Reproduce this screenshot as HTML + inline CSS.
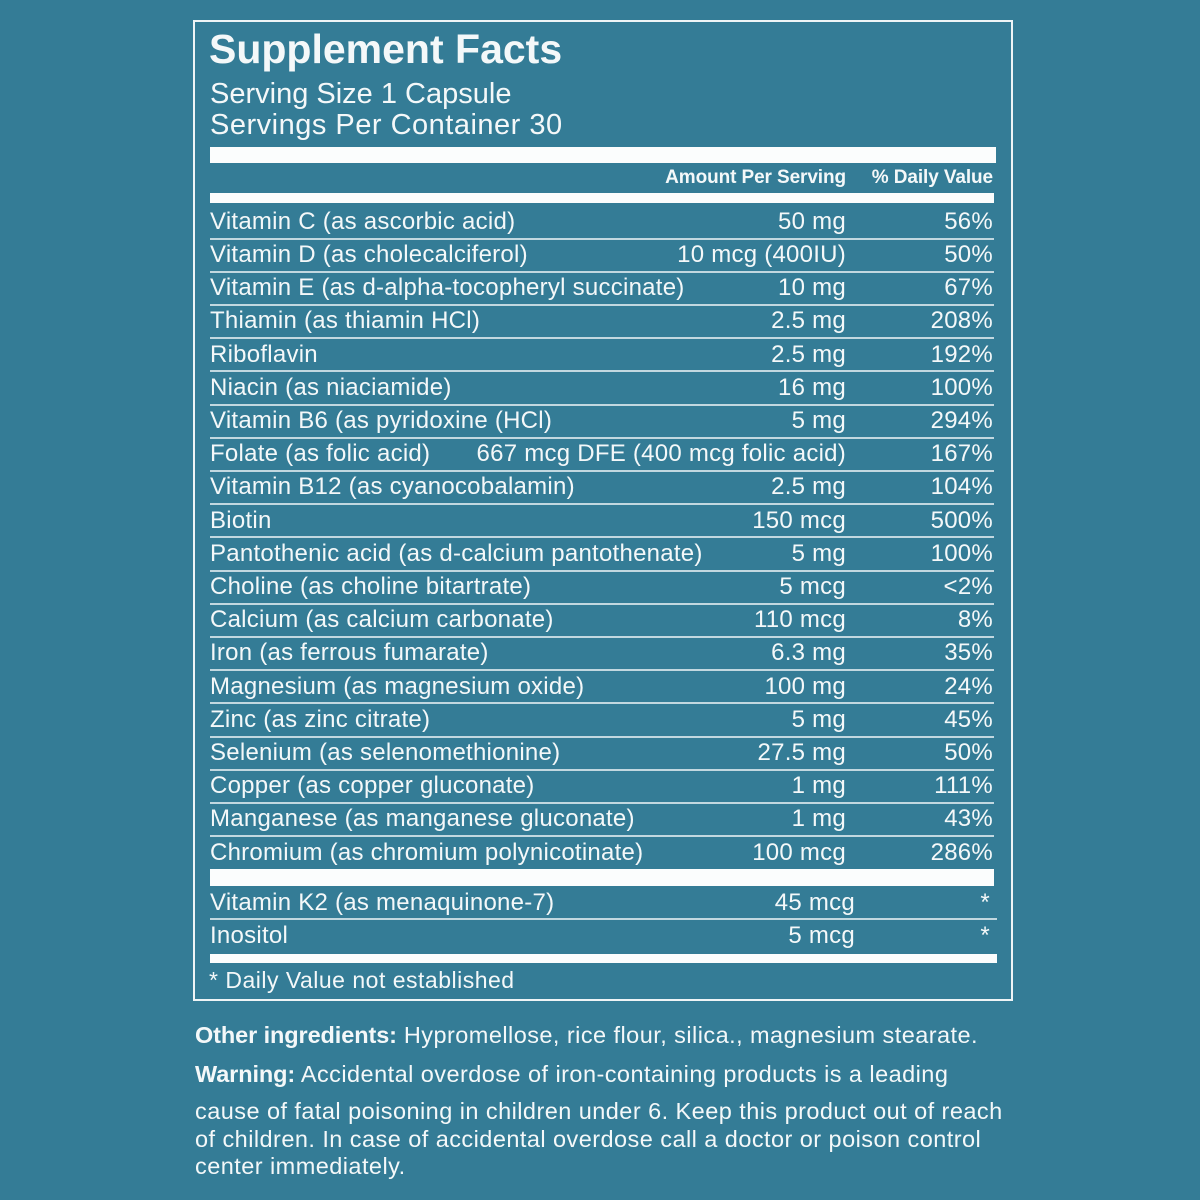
<!DOCTYPE html>
<html><head><meta charset="utf-8">
<style>
html,body{margin:0;padding:0;}
body{width:1200px;height:1200px;background:#347c96;position:relative;overflow:hidden;font-family:"Liberation Sans",Arial,sans-serif;color:#f4f8f9;}
.a{position:absolute;white-space:nowrap;}
.box{position:absolute;left:193px;top:20px;width:816px;height:977px;border:2px solid #eef4f6;}
.bar{position:absolute;background:#fbfdfd;}
.sep{position:absolute;left:210px;width:784px;height:2px;background:#c2d8e0;}
.r{position:absolute;left:0;width:1200px;height:24px;line-height:24px;font-size:24px;letter-spacing:0.25px;}
.r .n{position:absolute;left:210px;}
.r .m{position:absolute;right:354px;}
.r .p{position:absolute;right:207px;}
.f{font-size:23.5px;line-height:23.5px;letter-spacing:0.45px;}
.f b{letter-spacing:-0.1px;}
</style></head><body>
<div class="box"></div>
<div class="a" style="left:209px;top:29.3px;font-size:41px;line-height:41px;font-weight:bold;">Supplement Facts</div>
<div class="a" style="left:210px;top:79.5px;font-size:29px;line-height:29px;">Serving Size 1 Capsule</div>
<div class="a" style="left:210px;top:110.5px;font-size:29px;line-height:29px;letter-spacing:0.5px;">Servings Per Container 30</div>
<div class="bar" style="left:210px;top:147px;width:786px;height:16px;"></div>
<div class="a" style="right:354px;top:168px;font-size:19px;line-height:19px;font-weight:bold;letter-spacing:-0.1px;">Amount Per Serving</div>
<div class="a" style="right:207px;top:168px;font-size:19px;line-height:19px;font-weight:bold;letter-spacing:-0.1px;">% Daily Value</div>
<div class="bar" style="left:210px;top:193px;width:784px;height:10px;"></div>

<div class="r" style="top:209.7px"><span class="n">Vitamin C (as ascorbic acid)</span><span class="m">50 mg</span><span class="p">56%</span></div>
<div class="sep" style="top:237.5px"></div>
<div class="r" style="top:242.9px"><span class="n">Vitamin D (as cholecalciferol)</span><span class="m">10 mcg (400IU)</span><span class="p">50%</span></div>
<div class="sep" style="top:270.7px"></div>
<div class="r" style="top:276.1px"><span class="n">Vitamin E (as d-alpha-tocopheryl succinate)</span><span class="m">10 mg</span><span class="p">67%</span></div>
<div class="sep" style="top:303.9px"></div>
<div class="r" style="top:309.3px"><span class="n">Thiamin (as thiamin HCl)</span><span class="m">2.5 mg</span><span class="p">208%</span></div>
<div class="sep" style="top:337.1px"></div>
<div class="r" style="top:342.5px"><span class="n">Riboflavin</span><span class="m">2.5 mg</span><span class="p">192%</span></div>
<div class="sep" style="top:370.3px"></div>
<div class="r" style="top:375.7px"><span class="n">Niacin (as niaciamide)</span><span class="m">16 mg</span><span class="p">100%</span></div>
<div class="sep" style="top:403.5px"></div>
<div class="r" style="top:408.9px"><span class="n">Vitamin B6 (as pyridoxine (HCl)</span><span class="m">5 mg</span><span class="p">294%</span></div>
<div class="sep" style="top:436.7px"></div>
<div class="r" style="top:442.1px"><span class="n">Folate (as folic acid)</span><span class="m">667 mcg DFE (400 mcg folic acid)</span><span class="p">167%</span></div>
<div class="sep" style="top:469.9px"></div>
<div class="r" style="top:475.3px"><span class="n">Vitamin B12 (as cyanocobalamin)</span><span class="m">2.5 mg</span><span class="p">104%</span></div>
<div class="sep" style="top:503.1px"></div>
<div class="r" style="top:508.5px"><span class="n">Biotin</span><span class="m">150 mcg</span><span class="p">500%</span></div>
<div class="sep" style="top:536.3px"></div>
<div class="r" style="top:541.7px"><span class="n">Pantothenic acid (as d-calcium pantothenate)</span><span class="m">5 mg</span><span class="p">100%</span></div>
<div class="sep" style="top:569.5px"></div>
<div class="r" style="top:574.9px"><span class="n">Choline (as choline bitartrate)</span><span class="m">5 mcg</span><span class="p">&lt;2%</span></div>
<div class="sep" style="top:602.7px"></div>
<div class="r" style="top:608.1px"><span class="n">Calcium (as calcium carbonate)</span><span class="m">110 mcg</span><span class="p">8%</span></div>
<div class="sep" style="top:635.9px"></div>
<div class="r" style="top:641.3px"><span class="n">Iron (as ferrous fumarate)</span><span class="m">6.3 mg</span><span class="p">35%</span></div>
<div class="sep" style="top:669.1px"></div>
<div class="r" style="top:674.5px"><span class="n">Magnesium (as magnesium oxide)</span><span class="m">100 mg</span><span class="p">24%</span></div>
<div class="sep" style="top:702.3px"></div>
<div class="r" style="top:707.7px"><span class="n">Zinc (as zinc citrate)</span><span class="m">5 mg</span><span class="p">45%</span></div>
<div class="sep" style="top:735.5px"></div>
<div class="r" style="top:740.9px"><span class="n">Selenium (as selenomethionine)</span><span class="m">27.5 mg</span><span class="p">50%</span></div>
<div class="sep" style="top:768.7px"></div>
<div class="r" style="top:774.1px"><span class="n">Copper (as copper gluconate)</span><span class="m">1 mg</span><span class="p">111%</span></div>
<div class="sep" style="top:801.9px"></div>
<div class="r" style="top:807.3px"><span class="n">Manganese (as manganese gluconate)</span><span class="m">1 mg</span><span class="p">43%</span></div>
<div class="sep" style="top:835.1px"></div>
<div class="r" style="top:840.5px"><span class="n">Chromium (as chromium polynicotinate)</span><span class="m">100 mcg</span><span class="p">286%</span></div>

<div class="bar" style="left:210px;top:869px;width:784px;height:17px;"></div>

<div class="r" style="top:890.7px"><span class="n">Vitamin K2 (as menaquinone-7)</span><span class="m" style="right:345px">45 mcg</span><span class="p" style="right:210px">*</span></div>
<div class="sep" style="top:918px;width:787px"></div>
<div class="r" style="top:923.7px"><span class="n">Inositol</span><span class="m" style="right:345px">5 mcg</span><span class="p" style="right:210px">*</span></div>

<div class="bar" style="left:210px;top:954px;width:787px;height:9px;"></div>
<div class="a" style="left:209px;top:968.5px;font-size:23px;line-height:23px;letter-spacing:0.5px;">* Daily Value not established</div>

<div class="a f" style="left:195px;top:1024px;"><b>Other ingredients:</b> Hypromellose, rice flour, silica., magnesium stearate.</div>
<div class="a f" style="left:195px;top:1063px;"><b>Warning:</b> Accidental overdose of iron-containing products is a leading</div>
<div class="a f" style="left:195px;top:1100px;">cause of fatal poisoning in children under 6. Keep this product out of reach</div>
<div class="a f" style="left:195px;top:1128px;">of children. In case of accidental overdose call a doctor or poison control</div>
<div class="a f" style="left:195px;top:1155px;">center immediately.</div>
</body></html>
